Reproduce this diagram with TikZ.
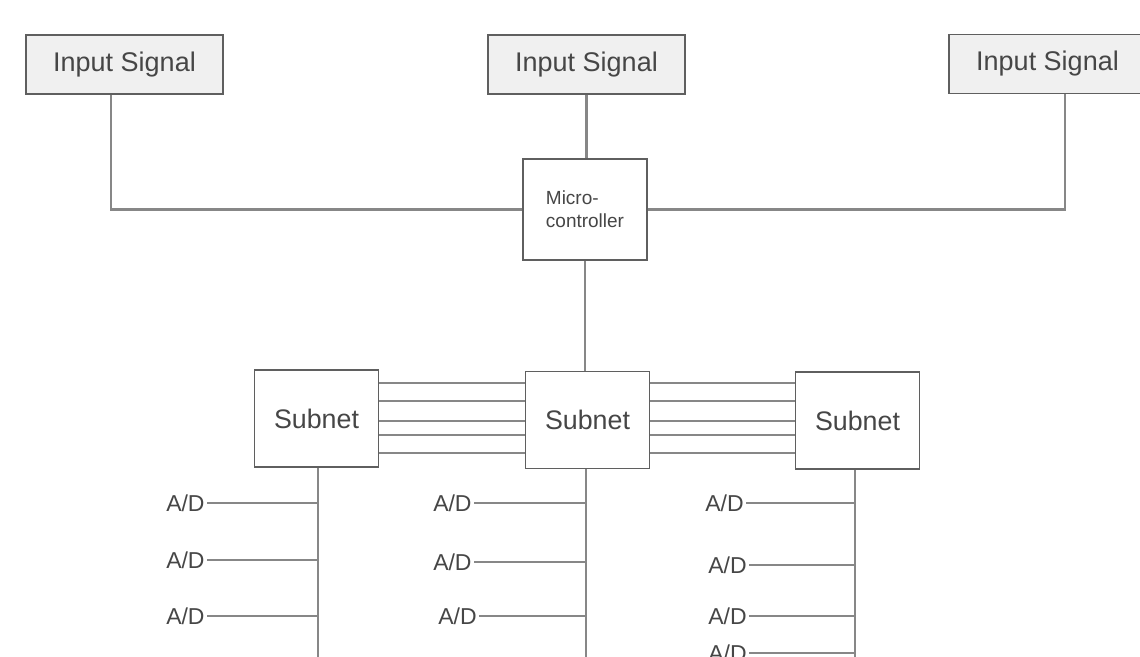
\documentclass[tikz,border=0pt]{standalone}
\usepackage{fontspec}
\setmainfont{Liberation Sans}
\usepackage{xcolor}
\definecolor{WireGray} {RGB}{135, 135, 135}
\definecolor{EdgeGray} {RGB}{95,  95,  95}
\definecolor{FillGray} {RGB}{240, 240, 240}
\definecolor{TextGray} {RGB}{70,  70,  70}
\usetikzlibrary{positioning}

\begin{document}
\begin{tikzpicture}[
  x=0.5pt, y=-0.5pt,
  inbox/.style={
    draw=EdgeGray, fill=FillGray,
    line width=0.8pt, text=TextGray,
    minimum width=98.5pt,
    minimum height=29.5pt,
    font=\fontsize{13.5}{16}\selectfont
  },
  subbox/.style={
    draw=EdgeGray, fill=white,
    line width=0.9pt, text=TextGray,
    minimum width=62pt,
    minimum height=48.5pt,
    font=\fontsize{13.4}{16}\selectfont
  },
  mcbox/.style={
    draw=EdgeGray, fill=white,
    line width=0.8pt, text=TextGray,
    align=left,
    minimum width=62pt,
    minimum height=50.5pt,
    font=\fontsize{9.5}{11.5}\selectfont
  },
  adlabel/.style={
    anchor=east, inner sep=1pt, text=TextGray,
    font=\fontsize{11.5}{14}\selectfont
  },
  wire/.style={WireGray, line width=1.2pt}
]
\useasboundingbox (0,0) rectangle (1140,657);

% input signals
\node[inbox] (in1) at (124.5,64.5) {Input Signal};
\node[inbox] (in2) at (586.5,64.5) {Input Signal};
\node[inbox] (in3) at (1047.5,64) {Input Signal};

% micro-controller
\node[mcbox] (mc) at (585,209.5) {Micro-\\controller};

\coordinate (jl) at (111,205);
\coordinate (jr) at (1065,205);

\draw[wire] (in1.south -| jl) |- (mc.west);
\draw[wire] (in3.south -| jr) |- (mc.east);
\draw[wire] (in2.south) -- (mc.north -| in2.south);

% subnets
\node[subbox] (s1) at (316.5,418.5) {Subnet};
\node[subbox] (s2) at (587.5,420)   {Subnet};
\node[subbox] (s3) at (857.5,420.5) {Subnet};

\draw[wire] (mc.south) -- (s2.north -| mc.south);

\foreach \y in {383,401,421,435,453} {
  \draw[wire] (s1.east |- 0,\y) -- (s2.west |- 0,\y);
  \draw[wire] (s2.east |- 0,\y) -- (s3.west |- 0,\y);
}

% buses
\coordinate (b1) at (318,670);
\coordinate (b2) at (586,670);
\coordinate (b3) at (855,670);
\draw[wire] (b1 |- s1.south) -- (b1);
\draw[wire] (b2 |- s2.south) -- (b2);
\draw[wire] (b3 |- s3.south) -- (b3);

% A/D converters
\foreach \y [count=\i] in {503,560,616} {
  \node[adlabel] (adl\i) at (207,\y) {A/D};
  \draw[wire] (adl\i.east) -- (adl\i.east -| b1);
}
\foreach \y/\x [count=\i] in {503/474,562/474,616/479} {
  \node[adlabel] (adm\i) at (\x,\y) {A/D};
  \draw[wire] (adm\i.east) -- (adm\i.east -| b2);
}
\foreach \y/\x [count=\i] in {503/746,565/749,616/749,653/749} {
  \node[adlabel] (adr\i) at (\x,\y) {A/D};
  \draw[wire] (adr\i.east) -- (adr\i.east -| b3);
}

\end{tikzpicture}
\end{document}
